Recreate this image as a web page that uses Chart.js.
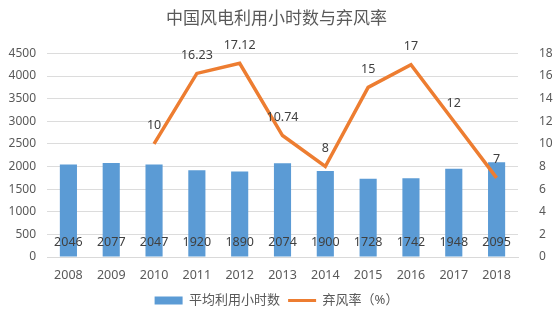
<!DOCTYPE html>
<html>
<head>
<meta charset="utf-8">
<script src="https://cdn.jsdelivr.net/npm/chart.js@4/dist/chart.umd.min.js"></script>
<style>
  html, body { margin: 0; padding: 0; background: #fff; }
  #wrap { width: 553px; height: 323px; }
</style>
</head>
<body>
<div id="wrap"><canvas id="myChart" width="553" height="323"></canvas></div>
<script>
var years = ["2008", "2009", "2010", "2011", "2012", "2013", "2014", "2015", "2016", "2017", "2018"];
var hours = [2046, 2077, 2047, 1920, 1890, 2074, 1900, 1728, 1742, 1948, 2095];
var curtailment = [null, null, 10, 16.23, 17.12, 10.74, 8, 15, 17, 12, 7];

var FONT = "'Noto Sans', 'Noto Sans CJK SC', sans-serif";
var GREY = "#595959";

// value labels: hours at the foot of each bar, rates above the line points
var valueLabels = {
  id: 'valueLabels',
  afterDatasetsDraw: function (chart) {
    var ctx = chart.ctx;
    ctx.save();
    ctx.font = "12.5px " + FONT;
    ctx.fillStyle = "#404040";
    ctx.textAlign = "center";
    ctx.textBaseline = "middle";
    chart.getDatasetMeta(0).data.forEach(function (bar, i) {
      ctx.fillText(String(hours[i]), bar.x, bar.base - 14);
    });
    chart.getDatasetMeta(1).data.forEach(function (pt, i) {
      if (curtailment[i] === null) return;
      ctx.fillText(String(curtailment[i]), pt.x, pt.y - 18);
    });
    ctx.restore();
  }
};

var ctx = document.getElementById("myChart");
var myChart = new Chart(ctx, {
  data: {
    labels: years,
    datasets: [
      {
        type: 'bar',
        label: '平均利用小时数',
        data: hours,
        backgroundColor: "#5B9BD5",
        yAxisID: 'y',
        categoryPercentage: 1,
        barPercentage: 0.4,
        pointStyle: 'rect',
        order: 2
      },
      {
        type: 'line',
        label: '弃风率（%）',
        data: curtailment,
        borderColor: "#ED7D31",
        backgroundColor: "#ED7D31",
        borderWidth: 3.5,
        pointRadius: 0,
        pointStyle: 'line',
        tension: 0,
        yAxisID: 'y1',
        order: 1
      }
    ]
  },
  options: {
    responsive: false,
    animation: false,
    layout: { padding: { left: 0, right: 0, top: 0, bottom: 6 } },
    plugins: {
      title: {
        display: true,
        text: '中国风电利用小时数与弃风率',
        color: GREY,
        font: { family: FONT, size: 17, weight: 'normal' },
        padding: { top: 9, bottom: 24 }
      },
      legend: {
        display: true,
        position: 'bottom',
        labels: {
          color: GREY,
          font: { family: FONT, size: 13 },
          usePointStyle: true,
          pointStyleWidth: 28,
          boxHeight: 8,
          padding: 8,
          generateLabels: function (chart) {
            return chart.data.datasets.map(function (ds, i) {
              return {
                text: ds.label,
                fillStyle: ds.backgroundColor,
                strokeStyle: ds.backgroundColor,
                lineWidth: ds.type === 'line' ? 3 : 0,
                pointStyle: ds.pointStyle,
                datasetIndex: i,
                fontColor: GREY
              };
            });
          }
        }
      },
      tooltip: { enabled: false }
    },
    scales: {
      x: {
        grid: { display: false },
        border: { color: "#d9d9d9" },
        ticks: { color: GREY, font: { family: FONT, size: 12.5 }, padding: 3 }
      },
      y: {
        position: 'left',
        min: 0,
        max: 4500,
        afterFit: function (axis) { axis.width = 47; },
        grid: { color: "#dcdcdc", drawTicks: false },
        border: { display: false },
        ticks: {
          stepSize: 500, color: GREY, font: { family: FONT, size: 12 }, padding: 11,
          callback: function (v) { return String(v); }
        }
      },
      y1: {
        position: 'right',
        min: 0,
        max: 18,
        afterFit: function (axis) { axis.width = 35; },
        grid: { display: false },
        border: { display: false },
        ticks: {
          stepSize: 2, color: GREY, font: { family: FONT, size: 12 }, padding: 13,
          callback: function (v) { return String(v); }
        }
      }
    }
  },
  plugins: [valueLabels]
});
</script>
</body>
</html>
